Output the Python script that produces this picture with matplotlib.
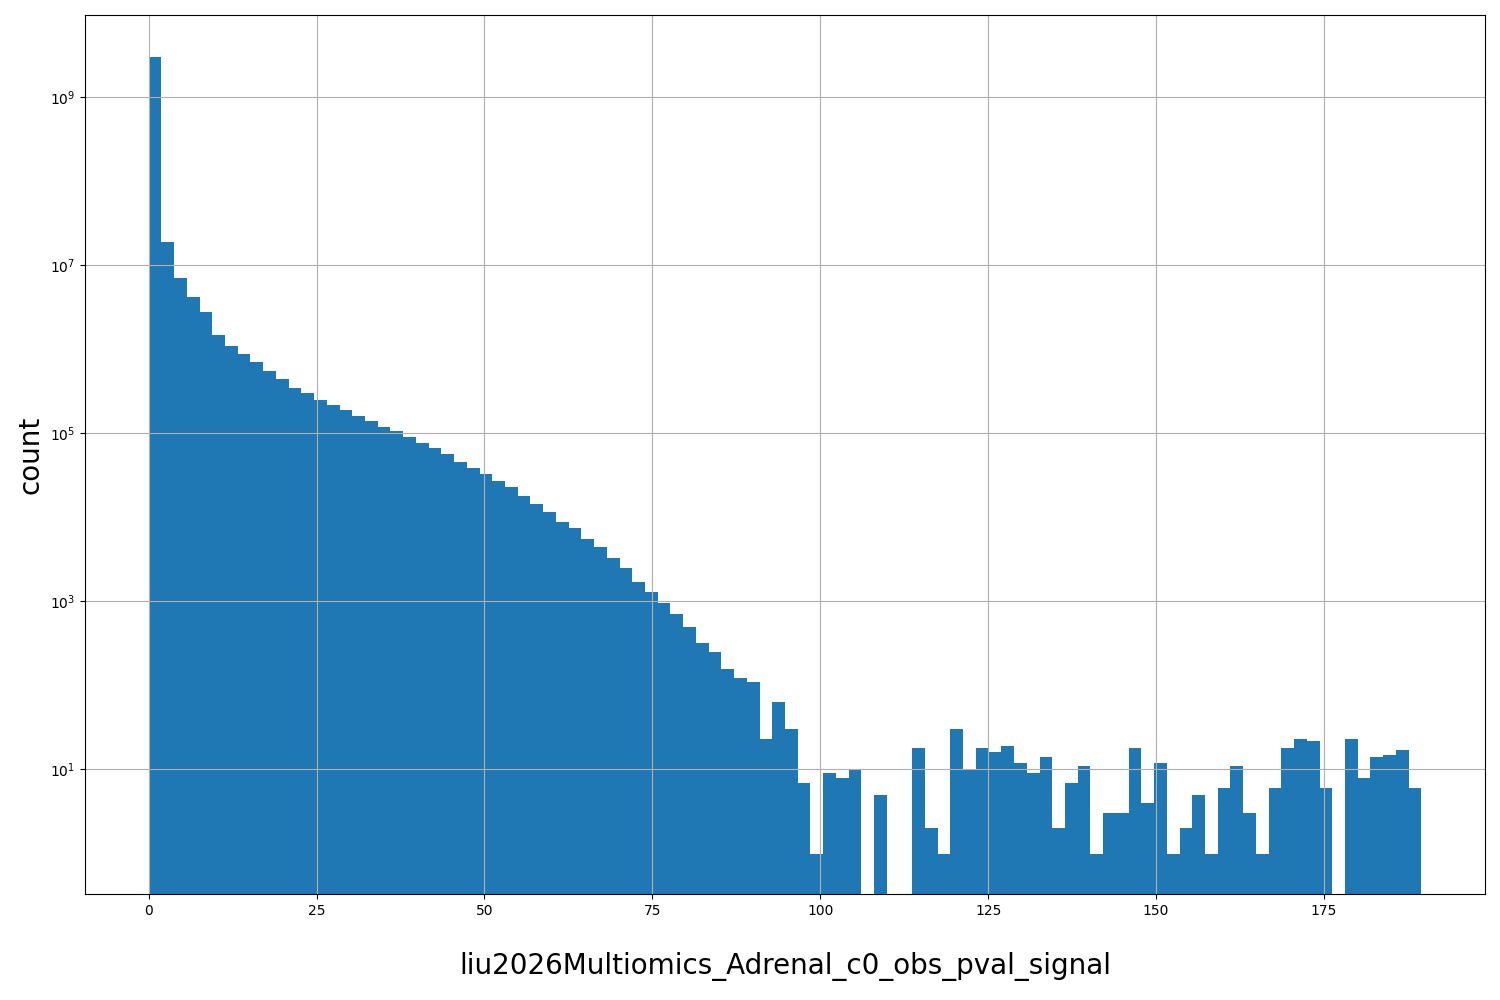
import numpy as np
import matplotlib
matplotlib.use("Agg")
import matplotlib.pyplot as plt

counts = [3e9, 1.9e7, 7.0e6, 4.2e6, 2.75e6, 1.47e6, 1.1e6, 8.7e5, 7e5, 5.5e5,
          4.4e5, 3.5e5, 3e5, 2.5e5, 2.15e5, 1.9e5, 1.6e5, 1.4e5, 1.2e5, 1.06e5,
          9e4, 7.7e4, 6.6e4, 5.6e4, 4.6e4, 3.9e4, 3.3e4, 2.7e4, 2.3e4, 1.8e4,
          1.43e4, 1.17e4, 8.9e3, 7.4e3, 5.5e3, 4.5e3, 3.25e3, 2.5e3, 1.7e3, 1.3e3,
          950, 700, 490, 316, 247, 155, 124, 109, 23, 63,
          30, 7, 1, 9, 8, 10, 0, 5, 0, 0,
          18, 2, 1, 30, 10, 18, 16, 19, 12, 9,
          14, 2, 7, 11, 1, 3, 3, 18, 4, 12,
          1, 2, 5, 1, 6, 11, 3, 1, 6, 18,
          23, 22, 6, 0, 23, 8, 14, 15, 17, 6]
x_min, x_max = 0.0, 189.5
edges = np.linspace(x_min, x_max, len(counts) + 1)
centers = (edges[:-1] + edges[1:]) / 2

fig = plt.figure(figsize=(15, 10), dpi=100)
ax = fig.add_axes([85/1500, 1 - 894/1000, 1400/1500, 879/1000])
ax.hist(centers, bins=edges, weights=counts, color="#1f77b4")
ax.set_yscale("log")
ax.set_ylim(0.33, 9.5e9)
ax.grid(True)
ax.set_xlabel("liu2026Multiomics_Adrenal_c0_obs_pval_signal", fontsize=20, labelpad=25)
ax.set_ylabel("count", fontsize=20)
fig.savefig("out.png")
